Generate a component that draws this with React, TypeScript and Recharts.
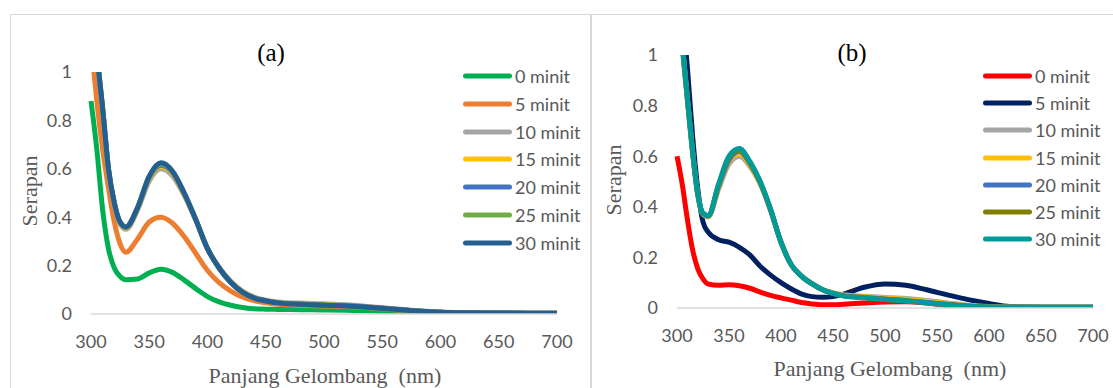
import React from "react";
import { LineChart, Line, XAxis, YAxis, Legend } from "recharts";

const wavelengths = [300, 305, 310, 315, 320, 325, 330, 340, 350, 360, 370, 380, 390, 400, 410, 420, 430, 440, 450, 460, 480, 500, 520, 540, 560, 580, 600, 620, 650, 700];
const seriesNames = ["0 minit", "5 minit", "10 minit", "15 minit", "20 minit", "25 minit", "30 minit"];
const xTicks = [300, 350, 400, 450, 500, 550, 600, 650, 700];
const yTicks = [0, 0.2, 0.4, 0.6, 0.8, 1];

// panel (a)
const a0 = [0.88, 0.68, 0.43, 0.27, 0.19, 0.155, 0.142, 0.145, 0.17, 0.185, 0.172, 0.14, 0.105, 0.072, 0.05, 0.036, 0.027, 0.022, 0.02, 0.019, 0.018, 0.017, 0.015, 0.012, 0.009, 0.006, 0.004, 0.003, 0.002, 0.002];
const a5 = [1.12, 0.88, 0.68, 0.52, 0.38, 0.29, 0.255, 0.31, 0.38, 0.4, 0.375, 0.32, 0.25, 0.18, 0.13, 0.095, 0.07, 0.055, 0.046, 0.04, 0.035, 0.033, 0.03, 0.025, 0.018, 0.011, 0.007, 0.005, 0.003, 0.002];
const a10 = [1.33, 1.06, 0.84, 0.59, 0.45, 0.37, 0.35, 0.43, 0.55, 0.6, 0.57, 0.49, 0.385, 0.27, 0.19, 0.135, 0.095, 0.07, 0.057, 0.05, 0.045, 0.042, 0.038, 0.03, 0.022, 0.013, 0.008, 0.005, 0.004, 0.003];
const a15 = [1.34, 1.07, 0.845, 0.595, 0.455, 0.375, 0.355, 0.435, 0.56, 0.61, 0.58, 0.495, 0.388, 0.27, 0.19, 0.133, 0.093, 0.068, 0.055, 0.048, 0.042, 0.039, 0.035, 0.028, 0.021, 0.012, 0.007, 0.005, 0.004, 0.003];
const a20 = [1.34, 1.07, 0.848, 0.598, 0.458, 0.378, 0.358, 0.438, 0.565, 0.615, 0.585, 0.498, 0.389, 0.27, 0.19, 0.131, 0.091, 0.067, 0.055, 0.047, 0.041, 0.037, 0.034, 0.028, 0.02, 0.012, 0.007, 0.005, 0.004, 0.003];
const a25 = [1.35, 1.08, 0.85, 0.6, 0.46, 0.38, 0.36, 0.44, 0.568, 0.62, 0.588, 0.5, 0.39, 0.27, 0.19, 0.13, 0.09, 0.066, 0.054, 0.046, 0.04, 0.036, 0.033, 0.027, 0.02, 0.012, 0.007, 0.005, 0.004, 0.003];
const a30 = [1.35, 1.08, 0.85, 0.6, 0.46, 0.38, 0.36, 0.44, 0.57, 0.625, 0.59, 0.5, 0.39, 0.27, 0.19, 0.13, 0.09, 0.066, 0.054, 0.046, 0.04, 0.036, 0.033, 0.027, 0.02, 0.012, 0.007, 0.005, 0.004, 0.003];

// panel (b)
const b0 = [0.6, 0.49, 0.35, 0.23, 0.155, 0.115, 0.095, 0.09, 0.092, 0.088, 0.078, 0.063, 0.05, 0.04, 0.031, 0.022, 0.016, 0.013, 0.013, 0.015, 0.02, 0.024, 0.025, 0.02, 0.01, 0.002, 0, 0, 0, 0];
const b5 = [1.4, 1.18, 0.95, 0.68, 0.47, 0.34, 0.3, 0.27, 0.26, 0.24, 0.21, 0.165, 0.13, 0.1, 0.075, 0.055, 0.045, 0.042, 0.045, 0.055, 0.082, 0.095, 0.09, 0.072, 0.052, 0.033, 0.018, 0.006, 0.003, 0.003];
const b10 = [1.28, 1.03, 0.82, 0.61, 0.445, 0.37, 0.36, 0.47, 0.57, 0.6, 0.56, 0.49, 0.385, 0.26, 0.17, 0.125, 0.095, 0.072, 0.06, 0.052, 0.046, 0.042, 0.038, 0.03, 0.02, 0.011, 0.006, 0.004, 0.003, 0.003];
const b15 = [1.29, 1.04, 0.825, 0.615, 0.448, 0.372, 0.362, 0.478, 0.58, 0.61, 0.565, 0.492, 0.386, 0.26, 0.17, 0.125, 0.095, 0.072, 0.059, 0.05, 0.044, 0.039, 0.034, 0.026, 0.017, 0.009, 0.005, 0.003, 0.003, 0.003];
const b20 = [1.29, 1.04, 0.828, 0.618, 0.449, 0.373, 0.364, 0.482, 0.585, 0.62, 0.572, 0.496, 0.388, 0.26, 0.17, 0.125, 0.095, 0.072, 0.058, 0.049, 0.042, 0.036, 0.03, 0.022, 0.015, 0.008, 0.004, 0.003, 0.003, 0.003];
const b25 = [1.3, 1.05, 0.83, 0.62, 0.45, 0.374, 0.365, 0.486, 0.595, 0.625, 0.576, 0.498, 0.389, 0.26, 0.17, 0.125, 0.095, 0.072, 0.058, 0.048, 0.041, 0.035, 0.029, 0.021, 0.014, 0.007, 0.004, 0.003, 0.003, 0.003];
const b30 = [1.3, 1.05, 0.83, 0.62, 0.45, 0.375, 0.365, 0.49, 0.6, 0.63, 0.58, 0.5, 0.39, 0.26, 0.17, 0.125, 0.095, 0.072, 0.058, 0.048, 0.04, 0.034, 0.028, 0.02, 0.013, 0.007, 0.004, 0.003, 0.003, 0.003];

const colorsA = ["#00B050", "#ED7D31", "#A5A5A5", "#FFC000", "#4472C4", "#70AD47", "#255E91"];
const colorsB = ["#FF0000", "#002060", "#A5A5A5", "#FFC000", "#4472C4", "#808000", "#009B98"];

const buildRows = (series: number[][]) =>
  wavelengths.map((nm, i) => {
    const row: Record<string, number> = { nm };
    series.forEach((s, k) => (row[`s${k}`] = s[i]));
    return row;
  });

const dataA = buildRows([a0, a5, a10, a15, a20, a25, a30]);
const dataB = buildRows([b0, b5, b10, b15, b20, b25, b30]);

const tickStyle = { fill: "#595959", fontSize: 18, fontFamily: "Lato" };
const serif = "'Liberation Serif', 'Times New Roman', serif";

const legendContent = (rowH: number) => (props: any) => (
  <div>
    {props.payload.map((p: any) => (
      <div key={p.value} style={{ display: "flex", alignItems: "center", height: rowH }}>
        <svg width={49} height={8}>
          <line x1={2.5} y1={4} x2={46.5} y2={4} stroke={p.color} strokeWidth={5} strokeLinecap="round" />
        </svg>
        <span style={{ marginLeft: 3, fontFamily: "Lato", fontSize: 18, color: "#595959", whiteSpace: "nowrap" }}>
          {p.value}
        </span>
      </div>
    ))}
  </div>
);

type PanelProps = {
  data: Record<string, number>[];
  colors: string[];
  width: number;
  plotLeft: number;
  plotRight: number;
  plotTop: number;
  plotBottom: number;
  legendLeft: number;
  legendRowH: number;
};

const Panel = ({ data, colors, width, plotLeft, plotRight, plotTop, plotBottom, legendLeft, legendRowH }: PanelProps) => (
  <LineChart
    width={width}
    height={388}
    data={data}
    margin={{ top: plotTop, right: width - plotRight, bottom: 0, left: 0 }}
  >
    <XAxis
      dataKey="nm"
      type="number"
      domain={[300, 700]}
      ticks={xTicks}
      height={388 - plotBottom}
      tickSize={0}
      tickMargin={21}
      tick={tickStyle}
      axisLine={{ stroke: "#D9D9D9", strokeWidth: 1.5 }}
    />
    <YAxis
      domain={[0, 1]}
      ticks={yTicks}
      allowDataOverflow
      width={plotLeft}
      tickSize={0}
      tickMargin={19}
      tick={tickStyle}
      axisLine={false}
    />
    <Legend
      layout="vertical"
      align="center"
      verticalAlign="middle"
      itemSorter="dataKey"
      wrapperStyle={{ left: legendLeft, top: 76 - legendRowH / 2, width: 140 }}
      content={legendContent(legendRowH)}
    />
    {seriesNames.map((name, k) => (
      <Line
        key={name}
        type="monotone"
        dataKey={`s${k}`}
        name={name}
        stroke={colors[k]}
        strokeWidth={5}
        dot={false}
        isAnimationActive={false}
      />
    ))}
  </LineChart>
);

const Text = ({ x, y, children, size, color, rotate }: any) => (
  <div
    style={{
      position: "absolute",
      left: x,
      top: y,
      transform: `translate(-50%, -50%)${rotate ? " rotate(-90deg)" : ""}`,
      fontFamily: serif,
      fontSize: size,
      color,
      whiteSpace: "pre",
      lineHeight: 1,
    }}
  >
    {children}
  </div>
);

export default function App() {
  return (
    <div style={{ position: "relative", width: 1113, height: 388, overflow: "hidden", background: "#fff" }}>
      <style>{"body{margin:0}"}</style>
      <div style={{ position: "absolute", left: 10, top: 14, width: 581, height: 400, border: "1.5px solid #D9D9D9", boxSizing: "border-box" }} />
      <div style={{ position: "absolute", left: 591, top: 14, width: 540, height: 400, border: "1.5px solid #D9D9D9", boxSizing: "border-box" }} />
      <div style={{ position: "absolute", left: 0, top: 0 }}>
        <Panel data={dataA} colors={colorsA} width={590} plotLeft={91} plotRight={557} plotTop={72} plotBottom={314} legendLeft={463} legendRowH={27.8} />
      </div>
      <div style={{ position: "absolute", left: 590, top: 0 }}>
        <Panel data={dataB} colors={colorsB} width={523} plotLeft={87} plotRight={503} plotTop={55} plotBottom={308} legendLeft={393} legendRowH={27.2} />
      </div>
      <Text x={271} y={52} size={25} color="#000">(a)</Text>
      <Text x={852} y={52} size={25} color="#000">(b)</Text>
      <Text x={325} y={376} size={22} color="#595959">Panjang Gelombang  (nm)</Text>
      <Text x={890} y={369} size={22} color="#595959">Panjang Gelombang  (nm)</Text>
      <Text x={30} y={191} size={22} color="#595959" rotate>Serapan</Text>
      <Text x={614} y={180} size={22} color="#595959" rotate>Serapan</Text>
    </div>
  );
}
